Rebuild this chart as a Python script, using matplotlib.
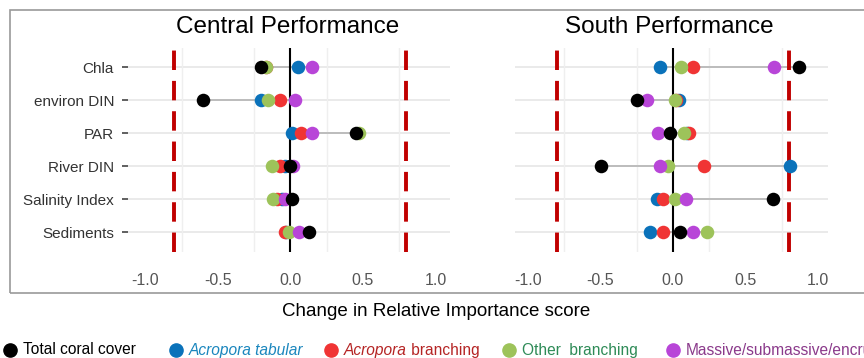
import matplotlib.pyplot as plt
from matplotlib.patches import Rectangle
import numpy as np

plt.rcParams['font.family'] = ['Liberation Sans', 'DejaVu Sans']

drivers = ['Chla', 'environ DIN', 'PAR', 'River DIN', 'Salinity Index', 'Sediments']
groups = ['Total coral cover', 'Acropora tabular', 'Acropora branching',
          'Other branching', 'Massive/submassive/encrusting']

# values, one list per group, in driver order
central_total   = [-0.20, -0.60, 0.45, 0.00, 0.01, 0.13]
central_tabular = [0.05, -0.20, 0.01, -0.04, -0.06, -0.03]
central_branch  = [-0.17, -0.075, 0.073, -0.075, -0.09, -0.04]
central_other   = [-0.17, -0.155, 0.47, -0.13, -0.12, -0.01]
central_massive = [0.15, 0.034, 0.15, 0.016, -0.04, 0.06]

south_total   = [0.87, -0.25, -0.02, -0.495, 0.69, 0.05]
south_tabular = [-0.087, 0.04, 0.10, 0.81, -0.11, -0.16]
south_branch  = [0.135, 0.02, 0.11, 0.215, -0.07, -0.07]
south_other   = [0.057, 0.016, 0.073, -0.037, 0.016, 0.235]
south_massive = [0.70, -0.18, -0.10, -0.09, 0.09, 0.14]

ticks = [-1.0, -0.5, 0.0, 0.5, 1.0]
threshold = 0.8

colors = {'Total coral cover': '#000000', 'Acropora tabular': '#0A72BA',
          'Acropora branching': '#F03434', 'Other branching': '#9DC35A',
          'Massive/submassive/encrusting': '#B845D8'}

W, H = 864, 358
fig = plt.figure(figsize=(W / 100, H / 100), dpi=100)

def px_axes(x0, y0, x1, y1):
    return fig.add_axes([x0 / W, 1 - y1 / H, (x1 - x0) / W, (y1 - y0) / H])

# outer frame
fig.patches.append(Rectangle((10 / W, 1 - 293 / H), 870 / W, 283 / H,
                             transform=fig.transFigure, fill=False,
                             edgecolor='#9a9a9a', linewidth=1.2))

panels = [
    ('Central Performance', (128, 48, 450, 252), (-1.12, 1.10),
     [central_total, central_tabular, central_branch, central_other, central_massive], True),
    ('South Performance', (515, 48, 828, 252), (-1.09, 1.07),
     [south_total, south_tabular, south_branch, south_other, south_massive], False),
]

draw_order = [1, 2, 3, 4, 0]
ypos = np.arange(1, len(drivers) + 1)

for title, box, xlim, series, show_y in panels:
    ax = px_axes(*box)
    ax.set_xlim(*xlim)
    ax.set_ylim(len(drivers) + 0.6, 0.42)
    for s in ax.spines.values():
        s.set_visible(False)
    for y in ypos:
        ax.axhline(y, color='#e6e6e6', lw=1.2, zorder=0)
    for x in [-0.75, -0.25, 0.25, 0.75]:
        ax.axvline(x, color='#efefef', lw=1.0, zorder=0)
    arr = np.array(series)
    for i, y in enumerate(ypos):
        ax.plot([arr[:, i].min(), arr[:, i].max()], [y, y], color='#b5b5b5', lw=1.2, zorder=1)
    ax.axvline(0, color='black', lw=1.5, zorder=2)
    for x in [-threshold, threshold]:
        ax.axvline(x, color='#C00000', lw=2.8, dashes=(5, 2.8), zorder=1)
    for k in draw_order:
        ax.scatter(series[k], ypos, s=95, color=colors[groups[k]], zorder=3 + draw_order.index(k),
                   linewidths=0)
    ax.set_xticks(ticks)
    ax.set_xticklabels([f'{t:.1f}' for t in ticks], fontsize=11.5, color='#555555')
    ax.tick_params(axis='x', length=0, pad=15)
    ax.set_yticks(ypos)
    if show_y:
        ax.set_yticklabels(drivers, fontsize=11, color='#333333')
        ax.tick_params(axis='y', length=4, width=1.2, color='#444444', pad=6)
    else:
        ax.set_yticklabels([])
        ax.tick_params(axis='y', length=0)
    fig.text((box[0] + box[2]) / 2 / W - 0.002, 1 - 27 / H, title, ha='center', va='center',
             fontsize=17.5)

fig.text(436 / W, 1 - 312 / H, 'Change in Relative Importance score', ha='center',
         va='center', fontsize=13.5)

# legend drawn by hand so the labels can carry mixed styles
ly = 1 - 350 / H
legend_items = [
    (10, 'Total coral cover', [('Total coral cover', 'normal', '#000000')]),
    (176, 'Acropora tabular', [('Acropora tabular', 'italic', '#1A86BD')]),
    (331, 'Acropora branching', [('Acropora', 'italic', '#B52424'), (' branching', 'normal', '#B52424')]),
    (509, 'Other branching', [('Other  branching', 'normal', '#2E8B57')]),
    (673, 'Massive/submassive/encrusting', [('Massive/submassive/encrusting', 'normal', '#8B3A8B')]),
]
renderer = fig.canvas.get_renderer()
for x, grp, parts in legend_items:
    fig.lines.append(plt.Line2D([x / W], [ly], marker='o', markersize=9.5, linestyle='',
                                color=colors[grp], transform=fig.transFigure))
    tx = (x + 13) / W
    for txt, style, col in parts:
        t = fig.text(tx, ly, txt, ha='left', va='center', fontsize=11.2, style=style, color=col)
        bb = t.get_window_extent(renderer=renderer)
        tx += bb.width / W

fig.savefig('out.png', dpi=100)
